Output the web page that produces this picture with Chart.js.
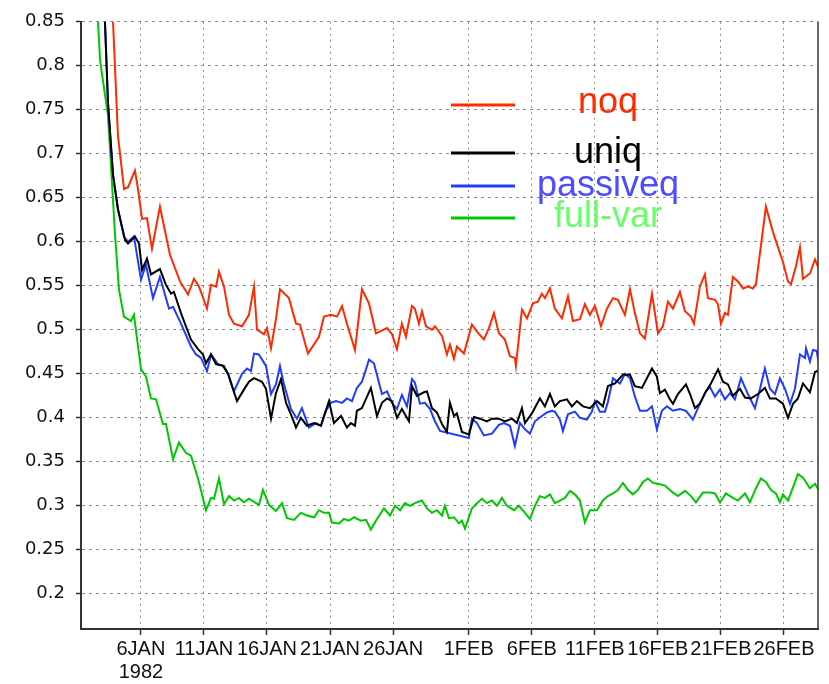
<!DOCTYPE html>
<html>
<head>
<meta charset="utf-8">
<script src="https://cdn.jsdelivr.net/npm/chart.js@4.4.1/dist/chart.umd.min.js"></script>
<style>
  html, body { margin: 0; padding: 0; background: #ffffff; }
  #wrap { width: 829px; height: 684px; }
</style>
</head>
<body>
<div id="wrap"><canvas id="c" width="829" height="684"></canvas></div>
<script>
// ---- data: x = days since 1 JAN 1982 00Z ----
const seriesNames = ["noq", "uniq", "passiveq", "full-var"];

const noqDays = [2.5,2.79,3.18,3.66,3.98,4.53,4.77,5.09,5.48,5.88,6.51,7.31,8.10,8.74,9.21,9.61,10.24,10.56,10.96,11.19,11.59,11.99,12.38,13.02,13.57,13.97,14.21,14.76,15.00,15.32,15.71,16.03,16.74,17.30,17.61,18.25,19.12,19.52,20.07,20.55,20.95,21.34,21.98,22.53,23.09,23.64,24.52,24.91,25.31,25.70,26.02,26.50,26.73,27.05,27.29,27.61,28.08,28.32,28.88,29.27,29.51,29.83,30.06,30.62,31.25,31.65,32.20,32.60,33.00,33.39,33.87,34.27,34.66,34.74,35.22,35.62,36.09,36.48,36.80,37.04,37.44,37.83,38.39,38.87,39.26,39.82,40.21,40.61,41.01,41.49,41.96,42.44,42.83,43.39,43.79,44.18,44.58,44.97,45.53,46.01,46.40,46.80,47.20,47.75,48.15,48.62,48.86,49.33,49.73,49.97,50.53,50.77,51.00,51.32,51.56,51.95,52.35,52.75,53.14,53.54,53.78,54.57,55.13,55.92,56.32,56.56,56.95,57.27,57.51,58.06,58.46,58.75];
const noqVals = [0.95,0.85,0.721,0.660,0.662,0.681,0.660,0.626,0.627,0.592,0.640,0.585,0.555,0.540,0.558,0.549,0.524,0.551,0.549,0.566,0.549,0.517,0.507,0.504,0.517,0.549,0.500,0.495,0.502,0.479,0.512,0.546,0.536,0.507,0.506,0.473,0.492,0.515,0.517,0.515,0.527,0.507,0.477,0.546,0.530,0.496,0.502,0.495,0.478,0.507,0.492,0.527,0.524,0.507,0.521,0.504,0.500,0.504,0.493,0.472,0.483,0.467,0.481,0.473,0.506,0.498,0.489,0.502,0.519,0.496,0.489,0.470,0.468,0.459,0.523,0.513,0.530,0.532,0.541,0.536,0.547,0.524,0.513,0.538,0.510,0.512,0.529,0.517,0.527,0.504,0.524,0.536,0.534,0.517,0.546,0.519,0.496,0.490,0.541,0.496,0.504,0.532,0.524,0.543,0.521,0.515,0.507,0.549,0.563,0.536,0.534,0.529,0.507,0.519,0.517,0.560,0.555,0.547,0.549,0.547,0.552,0.640,0.611,0.577,0.555,0.552,0.572,0.594,0.558,0.564,0.580,0.570];

const uniqDays = [1.9,2.15,2.39,2.79,3.18,3.74,3.98,4.53,4.85,5.09,5.48,5.80,6.51,6.99,7.39,7.62,8.18,8.97,9.53,9.92,10.16,10.56,10.96,11.51,11.91,12.07,12.62,13.17,13.57,13.97,14.60,14.92,15.32,15.71,16.11,16.51,16.90,17.30,17.69,18.17,18.73,19.28,19.52,19.92,20.31,20.87,21.34,21.66,21.98,22.13,22.53,23.24,23.72,24.12,24.52,24.91,25.31,25.70,26.26,26.50,26.89,27.45,27.69,28.08,28.48,28.88,29.27,29.51,29.83,30.06,30.46,31.01,31.41,31.89,32.44,32.84,33.39,33.87,34.43,34.82,35.22,35.46,36.01,36.64,37.04,37.44,37.83,38.23,38.79,39.18,39.58,40.06,40.61,41.17,41.64,42.04,42.60,43.23,43.79,44.18,44.74,45.13,45.53,45.92,46.16,46.56,46.95,47.20,47.59,48.23,48.55,48.94,49.33,49.81,50.21,50.77,51.16,51.56,51.95,52.51,52.91,53.38,53.94,54.49,54.89,55.36,55.92,56.32,56.72,57.11,57.51,58.06,58.46,58.75];
const uniqVals = [0.95,0.85,0.758,0.676,0.637,0.602,0.598,0.606,0.598,0.568,0.581,0.563,0.569,0.551,0.541,0.543,0.519,0.489,0.478,0.472,0.462,0.472,0.461,0.459,0.450,0.443,0.419,0.432,0.441,0.445,0.441,0.433,0.399,0.428,0.444,0.417,0.404,0.389,0.400,0.391,0.394,0.391,0.402,0.419,0.394,0.402,0.389,0.394,0.391,0.408,0.411,0.434,0.402,0.417,0.422,0.419,0.400,0.410,0.396,0.436,0.425,0.429,0.430,0.411,0.406,0.393,0.384,0.417,0.402,0.405,0.384,0.381,0.401,0.399,0.396,0.399,0.399,0.396,0.399,0.394,0.411,0.394,0.405,0.422,0.413,0.427,0.413,0.419,0.421,0.413,0.419,0.413,0.411,0.419,0.413,0.436,0.439,0.449,0.449,0.436,0.434,0.445,0.456,0.447,0.428,0.432,0.421,0.416,0.427,0.438,0.427,0.411,0.416,0.430,0.439,0.455,0.441,0.438,0.425,0.433,0.423,0.422,0.427,0.434,0.422,0.422,0.416,0.400,0.416,0.422,0.439,0.429,0.452,0.454];

const passiveqDays = [1.9,2.15,2.39,2.79,3.18,3.66,3.98,4.45,5.01,5.40,5.96,6.51,7.23,7.55,8.18,8.97,9.37,9.77,10.24,10.56,11.11,11.59,11.99,12.38,13.02,13.41,13.73,13.97,14.36,14.92,15.32,15.71,16.03,16.35,16.90,17.38,17.77,18.33,18.88,19.28,19.68,20.07,20.47,20.95,21.34,21.74,22.13,22.53,22.85,23.09,23.48,24.12,24.52,24.91,25.31,25.70,26.10,26.50,26.73,27.13,27.53,27.93,28.32,28.72,31.01,31.25,31.65,32.20,32.84,33.39,33.79,34.27,34.66,35.06,35.46,35.85,36.25,36.80,37.20,37.60,37.83,38.23,38.47,38.87,39.42,39.82,40.37,40.77,41.01,41.40,41.80,42.04,42.44,42.99,43.39,43.79,44.18,44.58,45.13,45.53,45.92,46.32,46.72,47.20,47.75,48.23,48.78,49.33,49.81,50.13,50.53,50.92,51.32,51.72,52.11,52.59,53.14,53.70,54.10,54.49,54.89,55.29,55.68,56.08,56.48,56.87,57.27,57.67,57.75,58.06,58.30,58.60,58.75];
const passiveqVals = [0.95,0.85,0.758,0.676,0.637,0.606,0.600,0.606,0.557,0.574,0.536,0.560,0.524,0.526,0.507,0.481,0.472,0.468,0.453,0.472,0.461,0.459,0.447,0.430,0.450,0.456,0.453,0.473,0.472,0.459,0.427,0.438,0.459,0.438,0.410,0.399,0.411,0.389,0.394,0.391,0.408,0.417,0.419,0.417,0.422,0.419,0.434,0.441,0.455,0.466,0.462,0.427,0.430,0.417,0.410,0.426,0.413,0.444,0.440,0.416,0.417,0.410,0.396,0.385,0.377,0.399,0.394,0.380,0.382,0.392,0.394,0.391,0.368,0.394,0.387,0.382,0.396,0.402,0.406,0.408,0.407,0.398,0.385,0.404,0.407,0.400,0.398,0.407,0.419,0.407,0.407,0.418,0.445,0.439,0.450,0.445,0.424,0.408,0.408,0.413,0.387,0.408,0.413,0.408,0.410,0.408,0.398,0.416,0.430,0.435,0.424,0.432,0.421,0.428,0.421,0.445,0.427,0.411,0.433,0.456,0.433,0.427,0.445,0.433,0.416,0.433,0.472,0.468,0.479,0.464,0.477,0.476,0.462];

const fullvarDays = [1.4,1.60,1.76,1.99,2.39,2.95,3.26,3.66,4.21,4.45,5.01,5.40,5.80,6.20,6.75,6.99,7.55,8.02,8.58,8.97,9.53,10.16,10.56,10.80,11.19,11.59,11.99,12.38,12.78,13.17,13.57,14.13,14.36,14.68,15.16,15.71,16.19,16.59,17.14,17.69,18.17,18.73,19.12,19.52,19.92,20.15,20.71,21.10,21.50,21.90,22.45,22.85,23.24,23.72,24.28,24.76,25.15,25.55,25.94,26.34,26.73,27.29,27.69,28.08,28.48,28.88,29.11,29.43,29.83,30.22,30.46,30.70,31.25,31.65,32.05,32.44,32.84,33.24,33.63,34.03,34.59,34.98,35.46,35.85,36.25,36.64,37.04,37.44,37.83,38.23,38.63,39.03,39.42,39.82,40.21,40.61,41.17,41.64,42.04,42.44,42.83,43.23,43.63,44.02,44.42,44.82,45.21,45.61,46.01,46.56,46.95,47.20,47.59,48.15,48.62,49.02,49.57,50.13,50.53,50.92,51.40,51.95,52.35,52.91,53.30,53.78,54.17,54.57,54.97,55.36,55.68,55.92,56.32,56.56,57.11,57.51,58.06,58.46,58.75];
const fullvarVals = [0.95,0.85,0.807,0.783,0.744,0.608,0.546,0.515,0.510,0.517,0.455,0.447,0.422,0.421,0.393,0.393,0.353,0.372,0.360,0.357,0.331,0.295,0.309,0.308,0.331,0.302,0.311,0.306,0.309,0.304,0.308,0.303,0.301,0.318,0.301,0.294,0.303,0.286,0.284,0.292,0.289,0.287,0.295,0.292,0.292,0.281,0.280,0.285,0.283,0.287,0.283,0.284,0.273,0.285,0.297,0.289,0.300,0.295,0.303,0.300,0.303,0.306,0.297,0.292,0.295,0.289,0.300,0.286,0.287,0.280,0.283,0.274,0.297,0.303,0.308,0.303,0.306,0.300,0.309,0.300,0.295,0.300,0.292,0.285,0.300,0.311,0.309,0.313,0.303,0.306,0.309,0.317,0.313,0.306,0.281,0.295,0.295,0.306,0.311,0.314,0.318,0.326,0.318,0.313,0.318,0.327,0.331,0.326,0.325,0.323,0.318,0.315,0.311,0.317,0.311,0.304,0.315,0.315,0.314,0.304,0.314,0.309,0.306,0.314,0.304,0.320,0.331,0.327,0.318,0.314,0.304,0.313,0.306,0.315,0.336,0.332,0.320,0.325,0.318];

const xTickDays = [5, 10, 15, 20, 25, 31, 36, 41, 46, 51, 56];
const xTickLabels = [["6JAN", "1982"], "11JAN", "16JAN", "21JAN", "26JAN", "1FEB", "6FEB", "11FEB", "16FEB", "21FEB", "26FEB"];
const yTickValues = [0.2, 0.25, 0.3, 0.35, 0.4, 0.45, 0.5, 0.55, 0.6, 0.65, 0.7, 0.75, 0.8, 0.85];

// ---- styles ----
const lineColors = ["#ff2a00", "#000000", "#1f3cff", "#00c800"];
const legendTextColors = ["#ff2a00", "#000000", "#4d4dff", "#66ff66"];

function pairs(days, vals) { return days.map((d, i) => ({ x: d, y: vals[i] })); }
const seriesData = [pairs(noqDays, noqVals), pairs(uniqDays, uniqVals), pairs(passiveqDays, passiveqVals), pairs(fullvarDays, fullvarVals)];

const legendPlugin = {
  id: 'insideLegend',
  afterDatasetsDraw(chart) {
    const ctx = chart.ctx;
    const lineY = [105, 153, 186, 218];
    const textY = [113, 163, 196, 227];
    ctx.save();
    chart.data.datasets.forEach((ds, i) => {
      ctx.strokeStyle = ds.borderColor;
      ctx.lineWidth = 3;
      ctx.beginPath();
      ctx.moveTo(451, lineY[i]);
      ctx.lineTo(515, lineY[i]);
      ctx.stroke();
      ctx.fillStyle = legendTextColors[i];
      ctx.font = '36px "Liberation Sans", Arial, sans-serif';
      ctx.textAlign = 'center';
      ctx.textBaseline = 'alphabetic';
      ctx.fillText(ds.label, 608, textY[i]);
    });
    ctx.restore();
  }
};

const rightBorderPlugin = {
  id: 'rightBorder',
  afterDraw(chart) {
    const a = chart.chartArea, ctx = chart.ctx;
    ctx.save();
    ctx.strokeStyle = '#333333';
    ctx.lineWidth = 1.5;
    ctx.beginPath();
    ctx.moveTo(a.right, a.top);
    ctx.lineTo(a.right, a.bottom);
    ctx.stroke();
    ctx.restore();
  }
};

new Chart(document.getElementById('c'), {
  type: 'line',
  data: {
    datasets: seriesNames.map((name, i) => ({
      label: name,
      data: seriesData[i],
      borderColor: lineColors[i],
      backgroundColor: lineColors[i],
      borderWidth: 2,
      pointRadius: 0,
      tension: 0,
      fill: false
    }))
  },
  options: {
    responsive: false,
    animation: false,
    layout: { padding: { top: 19, right: 11, left: 0, bottom: 0 } },
    plugins: { legend: { display: false }, tooltip: { enabled: false } },
    scales: {
      x: {
        type: 'linear',
        min: 0.25,
        max: 58.7,
        afterBuildTicks(scale) { scale.ticks = xTickDays.map(v => ({ value: v })); },
        afterFit(scale) { scale.height = 55; },
        ticks: {
          autoSkip: false,
          maxRotation: 0,
          minRotation: 0,
          padding: 3,
          color: '#111111',
          font: { family: '"Liberation Sans", Arial, sans-serif', size: 20, lineHeight: 1.15 },
          callback: (v, i) => xTickLabels[i]
        },
        grid: { color: '#8a8a8a', lineWidth: 1, tickLength: 6, tickColor: '#333333', tickWidth: 1.5 },
        border: { display: true, color: '#333333', width: 2, dash: [2, 4] }
      },
      y: {
        type: 'linear',
        min: 0.16,
        max: 0.85,
        afterBuildTicks(scale) { scale.ticks = yTickValues.map(v => ({ value: v })); },
        afterFit(scale) { scale.width = 81; },
        ticks: {
          padding: 11,
          color: '#111111',
          font: { family: '"DejaVu Sans", sans-serif', size: 18 },
          callback: v => String(Number(v.toFixed(2)))
        },
        grid: { color: '#8a8a8a', lineWidth: 1, tickLength: 5, tickColor: '#333333', tickWidth: 1.5 },
        border: { display: true, color: '#333333', width: 2, dash: [3, 4] }
      }
    }
  },
  plugins: [legendPlugin, rightBorderPlugin]
});
</script>
</body>
</html>
